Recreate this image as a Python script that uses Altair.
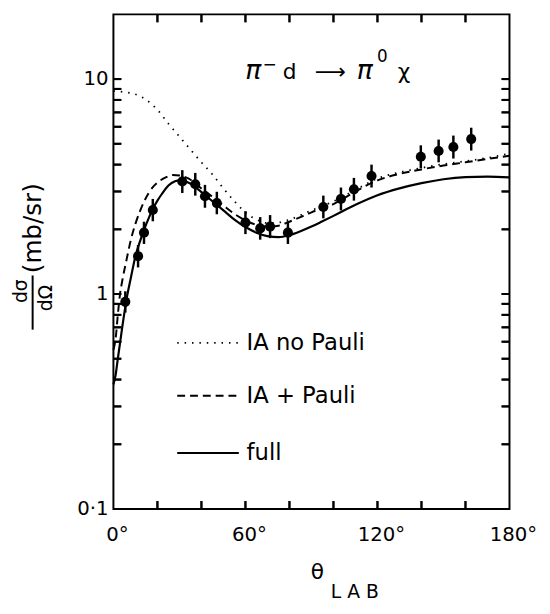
import math
import altair as alt
import pandas as pd

# ---------------- values ----------------
# measured points (theta_lab in degrees, dsigma/dOmega in mb/sr)
pts_x = [5.4, 11.2, 13.9, 17.9, 31.3, 37.2, 41.6, 47.0, 60.0, 66.7,
         71.2, 79.3, 95.4, 103.4, 109.3, 117.3, 139.7, 147.8, 154.5, 162.6]
pts_y = [0.92, 1.50, 1.93, 2.46, 3.34, 3.24, 2.85, 2.65, 2.15, 2.02,
         2.06, 1.93, 2.54, 2.77, 3.07, 3.54, 4.35, 4.63, 4.83, 5.26]
pts_lo = [0.82, 1.33, 1.71, 2.18, 2.95, 2.87, 2.52, 2.35, 1.90, 1.79,
          1.82, 1.71, 2.25, 2.45, 2.72, 3.13, 3.85, 4.10, 4.27, 4.65]
pts_hi = [1.03, 1.69, 2.17, 2.77, 3.77, 3.66, 3.22, 2.99, 2.43, 2.28,
          2.33, 2.18, 2.87, 3.13, 3.47, 4.00, 4.92, 5.23, 5.46, 5.94]

# IA no Pauli (dotted)
nop_x = [0, 5, 10, 15, 20, 25, 30, 35, 40, 45, 50, 55, 60, 65, 70, 75, 80,
         90, 100, 110, 120, 130, 140, 150, 160, 170, 180]
nop_y = [8.8, 8.7, 8.5, 8.0, 7.2, 6.2, 5.4, 4.7, 4.1, 3.6, 3.1, 2.7, 2.4,
         2.22, 2.14, 2.15, 2.22, 2.45, 2.7, 3.05, 3.45, 3.68, 3.86, 4.02,
         4.15, 4.3, 4.5]

# IA + Pauli (dashed)
pau_x = [0, 1, 2, 3, 4, 6, 8, 10, 12, 14, 16, 18, 20, 24, 27, 30, 34, 40,
         46, 50, 55, 60, 65, 70, 75, 80, 85, 90, 100, 110, 120, 130, 140,
         150, 160, 170, 180]
pau_y = [0.55, 0.62, 0.8, 1.0, 1.15, 1.45, 1.8, 2.12, 2.42, 2.7, 2.95, 3.15,
         3.3, 3.5, 3.58, 3.56, 3.45, 3.1, 2.78, 2.58, 2.36, 2.2, 2.1, 2.06,
         2.08, 2.17, 2.28, 2.4, 2.62, 3.0, 3.38, 3.62, 3.8, 3.96, 4.1, 4.25,
         4.4]

# full (solid)
ful_x = [0, 1, 2, 4, 6, 8, 10, 12, 14, 16, 18, 20, 22, 25, 28, 30, 34, 40,
         46, 50, 55, 60, 65, 70, 75, 80, 85, 90, 95, 100, 110, 120, 130, 140,
         150, 160, 170, 180]
ful_y = [0.38, 0.42, 0.5, 0.7, 0.95, 1.2, 1.5, 1.75, 2.0, 2.25, 2.5, 2.72,
         2.92, 3.2, 3.35, 3.38, 3.3, 2.98, 2.65, 2.45, 2.22, 2.05, 1.93, 1.86,
         1.84, 1.88, 1.96, 2.06, 2.18, 2.31, 2.6, 2.88, 3.1, 3.28, 3.42, 3.5,
         3.52, 3.49]

# axis ticks / labels
x_major = [0, 60, 120, 180]
x_major_lab = ["0°", "60°", "120°", "180°"]
x_minor = [20, 40, 60, 80, 100, 120, 140, 160]
y_major = [0.1, 1, 10]
y_major_lab = ["0·1", "1", "10"]
y_minor = [0.2, 0.3, 0.4, 0.5, 0.6, 0.7, 0.8, 0.9, 1,
           2, 3, 4, 5, 6, 7, 8, 9, 10]

# in-plot legend
leg_labels = ["IA no Pauli", "IA + Pauli", "full"]
leg_y = [0.593, 0.336, 0.182]
leg_x0, leg_x1, leg_tx = 29.0, 57.0, 60.5

# reaction label pieces (data coordinates)
rx_pi_t = ["π", "π"]
rx_pi_x = [63.6, 114.2]
rx_main_t = ["d", "⟶", "χ"]
rx_main_x = [80.1, 98.5, 132.1]
rx_sup_t = ["−", "0"]
rx_sup_x = [71.0, 122.2]
rx_sup_y = [11.6, 12.6]

# ---------------- chart ----------------
FONT = "DejaVu Sans"
W, H = 402, 502
XMIN, XMAX, YMIN, YMAX = 0, 180, 0.1, 20
TL = 8  # tick length (px)
xs = alt.Scale(domain=[XMIN, XMAX], nice=False, zero=False)
ys = alt.Scale(type="log", domain=[YMIN, YMAX], nice=False)

# tick length expressed in data units
tl_x = TL * (XMAX - XMIN) / W
tl_f = 10 ** (TL * math.log10(YMAX / YMIN) / H)


def X(field):
    return alt.X(field, type="quantitative", scale=xs, axis=None)


def Y(field):
    return alt.Y(field, type="quantitative", scale=ys, axis=None)


df_nop = pd.DataFrame({"x": nop_x, "y": nop_y})
df_pau = pd.DataFrame({"x": pau_x, "y": pau_y})
df_ful = pd.DataFrame({"x": ful_x, "y": ful_y})
df_pts = pd.DataFrame({"x": pts_x, "y": pts_y, "lo": pts_lo, "hi": pts_hi})
df_xl = pd.DataFrame({"x": x_major, "t": x_major_lab})
df_yl = pd.DataFrame({"y": y_major, "t": y_major_lab})

# tick anchor tables (tick base sits on the frame edge)
nx, ny = len(x_minor), len(y_minor)
df_tb = pd.DataFrame({"x": x_minor, "y": [YMIN] * nx})
df_tt = pd.DataFrame({"x": x_minor, "y": [YMAX] * nx})
df_tl = pd.DataFrame({"x": [XMIN] * ny, "y": y_minor})
df_tr = pd.DataFrame({"x": [XMAX] * ny, "y": y_minor})

# symbol paths: unit segment pointing into the plot; size 256 -> 8 px long
TSIZE = (2 * TL) ** 2


def tick_layer(df, path):
    return alt.Chart(df).mark_point(
        shape=path, size=TSIZE, filled=False, color="black",
        strokeWidth=2, opacity=1
    ).encode(x=X("x"), y=Y("y"))


tick_bot = tick_layer(df_tb, "M0,0L0,-1")
tick_top = tick_layer(df_tt, "M0,0L0,1")
tick_left = tick_layer(df_tl, "M0,0L1,0")
tick_right = tick_layer(df_tr, "M0,0L-1,0")

# same ticks also as short rule segments in data units
tk_x0, tk_x1, tk_y0, tk_y1 = [], [], [], []
for v in x_minor:
    tk_x0 += [v, v]
    tk_x1 += [v, v]
    tk_y0 += [YMIN, YMAX / tl_f]
    tk_y1 += [YMIN * tl_f, YMAX]
for v in y_minor:
    tk_x0 += [XMIN, XMAX - tl_x]
    tk_x1 += [XMIN + tl_x, XMAX]
    tk_y0 += [v, v]
    tk_y1 += [v, v]
df_tk = pd.DataFrame({"tx0": tk_x0, "tx1": tk_x1, "ty0": tk_y0, "ty1": tk_y1})
tick_rules = alt.Chart(df_tk).mark_rule(color="black", strokeWidth=2).encode(
    x=X("tx0"), x2="tx1", y=Y("ty0"), y2="ty1")

l_nop = alt.Chart(df_nop).mark_line(
    color="black", strokeWidth=1.8, strokeDash=[1.5, 6], interpolate="monotone"
).encode(x=X("x"), y=Y("y"))

l_pau = alt.Chart(df_pau).mark_line(
    color="black", strokeWidth=2, strokeDash=[8, 5], interpolate="monotone"
).encode(x=X("x"), y=Y("y"))

l_ful = alt.Chart(df_ful).mark_line(
    color="black", strokeWidth=2.2, interpolate="monotone"
).encode(x=X("x"), y=Y("y"))

# tick labels
lab_x = alt.Chart(df_xl).mark_text(
    align="center", baseline="middle", font=FONT, fontSize=20, color="black", dx=4
).encode(x=X("x"), y=alt.value(H + 26), text="t:N")
lab_y = alt.Chart(df_yl).mark_text(
    align="right", baseline="middle", font=FONT, fontSize=20, color="black"
).encode(y=Y("y"), x=alt.value(-5), text="t:N")

errbars = alt.Chart(df_pts).mark_rule(color="black", strokeWidth=2.5).encode(
    x=X("x"), y=Y("lo"), y2="hi")
points = alt.Chart(df_pts).mark_circle(color="black", size=105, opacity=1).encode(
    x=X("x"), y=Y("y"))

df_leg = pd.DataFrame({"x0": [leg_x0] * 3, "x1": [leg_x1] * 3,
                       "tx": [leg_tx] * 3, "y": leg_y, "label": leg_labels})
dashes = [[1.5, 6], [8, 5], [1, 0]]
leg_lines = [
    alt.Chart(df_leg.iloc[[i]]).mark_rule(
        color="black", strokeWidth=2 if i else 1.8, strokeDash=dashes[i]
    ).encode(x=X("x0"), x2="x1", y=Y("y"))
    for i in range(3)
]
leg_text = alt.Chart(df_leg).mark_text(
    align="left", baseline="middle", font=FONT, fontSize=23, color="black"
).encode(x=X("tx"), y=Y("y"), text="label:N")

df_pi = pd.DataFrame({"x": rx_pi_x, "y": [10.0] * len(rx_pi_x), "t": rx_pi_t})
rx_pi = alt.Chart(df_pi).mark_text(
    align="center", baseline="alphabetic", font=FONT, fontSize=27,
    fontStyle="italic", color="black"
).encode(x=X("x"), y=Y("y"), text="t:N")
df_rx = pd.DataFrame({"x": rx_main_x, "y": [10.0] * len(rx_main_x), "t": rx_main_t})
rx_main = alt.Chart(df_rx).mark_text(
    align="center", baseline="alphabetic", font=FONT, fontSize=22, color="black"
).encode(x=X("x"), y=Y("y"), text="t:N")
df_rxs = pd.DataFrame({"x": rx_sup_x, "y": rx_sup_y, "t": rx_sup_t})
rx_sup = alt.Chart(df_rxs).mark_text(
    align="center", baseline="middle", font=FONT, fontSize=17, color="black"
).encode(x=X("x"), y=Y("y"), text="t:N")

one = pd.DataFrame({"a": [0]})


def label(text, x, y, size, angle=0):
    return alt.Chart(one).mark_text(
        text=text, align="center", baseline="middle", font=FONT,
        fontSize=size, color="black", angle=angle
    ).encode(x=alt.value(x), y=alt.value(y))


y_t1 = label("dσ", -94, 281, 19, 270)
y_t2 = label("dΩ", -68, 288, 19, 270)
y_t3 = label("(mb/sr)", -81, 217, 25, 270)
y_bar = alt.Chart(one).mark_rule(color="black", strokeWidth=2).encode(
    x=alt.value(-82), y=alt.value(265), y2=alt.value(320))
x_t1 = label("θ", 207, 566, 22)
x_t2 = label("L A B", 245, 586, 19)

chart = alt.layer(
    l_nop, l_pau, l_ful, lab_x, lab_y, errbars, points, *leg_lines,
    leg_text, rx_pi, rx_main, rx_sup, y_t1, y_t2, y_t3, y_bar, x_t1, x_t2,
    tick_rules, tick_bot, tick_top, tick_left, tick_right
).properties(
    width=W, height=H,
    padding={"left": 107, "top": 2, "right": 33, "bottom": 94},
    autosize=alt.AutoSizeParams(type="none"),
    background="white",
).configure_view(stroke="black", strokeWidth=2)

chart.save("out.html", embed_options={"renderer": "svg", "actions": False})
